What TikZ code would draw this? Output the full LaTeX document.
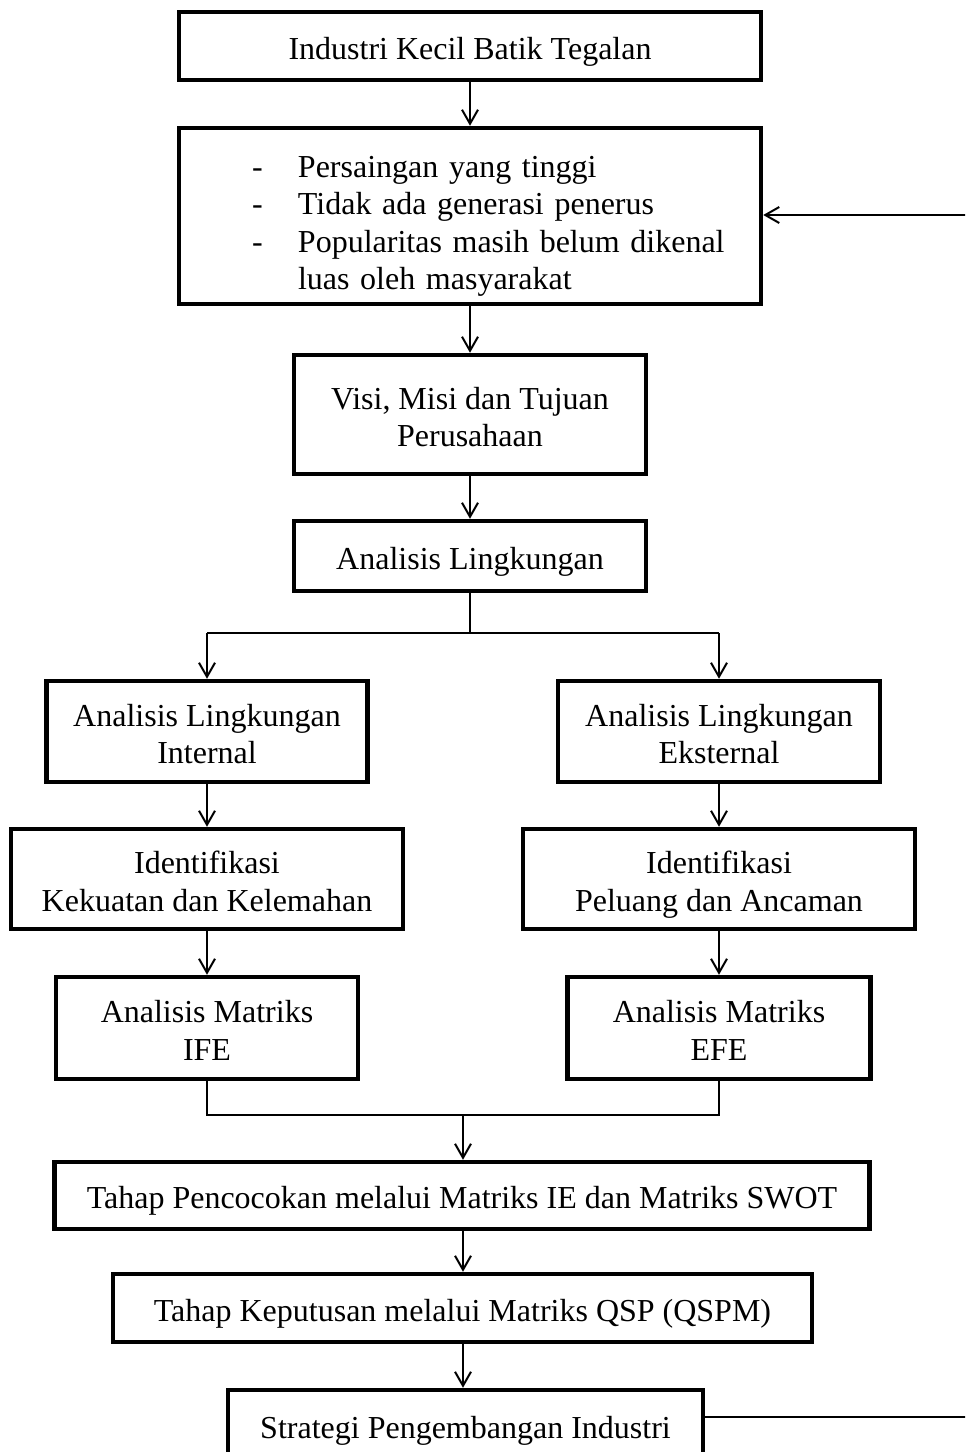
\documentclass[tikz,border=0pt]{standalone}
\usepackage{fontspec}
\setmainfont{Liberation Serif}
\usetikzlibrary{arrows.meta}
\newcommand\myfirststrut{\rule{0pt}{17pt}}
\tikzset{
  box/.style={draw, line width=2.25pt, inner sep=0pt, align=center,
    font=\fontsize{16pt}{18.75pt}\selectfont,
    execute at end node={\rule[-3.6pt]{0pt}{0pt}}},
  conn/.style={line width=1pt},
  arr/.style={line width=1pt, -{Straight Barb[length=7pt,width=8pt]}}
}
\begin{document}
\begin{tikzpicture}[x=0.5pt,y=-0.5pt]
\path[use as bounding box] (0,0) rectangle (965,1452);
\clip (0,0) rectangle (965,1452);

\node[box, minimum width=291pt, minimum height=34pt] (b1) at (470,46) {\myfirststrut Industri Kecil Batik Tegalan};
\node[box, text width=291pt, minimum height=88pt, align=left] (b2) at (470,216)
 {\rule{0pt}{21pt}\hspace*{36.5pt}\makebox[23pt][l]{-}Persaingan yang tinggi\\
  \hspace*{36.5pt}\makebox[23pt][l]{-}Tidak ada generasi penerus\\
  \hspace*{36.5pt}\makebox[23pt][l]{-}\makebox[219.5pt][s]{Popularitas masih belum dikenal}\\
  \hspace*{59.5pt}luas oleh masyarakat};
\node[box, minimum width=176pt, minimum height=59.5pt] (b3) at (470,414.5) {\myfirststrut Visi, Misi dan Tujuan\\Perusahaan};
\node[box, minimum width=176pt, minimum height=35pt] (b4) at (470,556) {\myfirststrut Analisis Lingkungan};

\node[box, minimum width=160.5pt, minimum height=50.5pt] (l1) at (207,731.5) {\myfirststrut Analisis Lingkungan\\Internal};
\node[box, minimum width=161pt, minimum height=50.5pt] (r1) at (719,731.5) {\myfirststrut Analisis Lingkungan\\Eksternal};
\node[box, minimum width=196pt, minimum height=50pt] (l2) at (207,879) {\myfirststrut Identifikasi\\Kekuatan dan Kelemahan};
\node[box, minimum width=196pt, minimum height=50pt] (r2) at (719,879) {\myfirststrut Identifikasi\\Peluang dan Ancaman};
\node[box, minimum width=151pt, minimum height=51pt] (l3) at (207,1028) {\myfirststrut Analisis Matriks\\IFE};
\node[box, minimum width=151.5pt, minimum height=51pt] (r3) at (719,1028) {\myfirststrut Analisis Matriks\\EFE};

\node[box, minimum width=407.5pt, minimum height=33.5pt] (b5) at (462,1195.5) {\myfirststrut Tahap Pencocokan melalui Matriks IE dan Matriks SWOT};
\node[box, minimum width=349.5pt, minimum height=34pt] (b6) at (462.5,1308) {\myfirststrut Tahap Keputusan melalui Matriks QSP (QSPM)};
\node[box, minimum width=237.5pt, minimum height=35pt] (b7) at (465.5,1425) {\myfirststrut Strategi Pengembangan Industri};

\coordinate (s) at (470,633);
\coordinate (m) at (463,1115);
\coordinate (f1) at (970,1417);
\coordinate (f2) at (970,215);

\draw[arr] (b1.south) -- (b1.south |- b2.north);
\draw[arr] (b2.south) -- (b2.south |- b3.north);
\draw[arr] (b3.south) -- (b3.south |- b4.north);
\draw[conn] (b4.south) -- (s);
\draw[conn] (l1.north |- s) -- (r1.north |- s);
\draw[arr] (l1.north |- s) -- (l1.north);
\draw[arr] (r1.north |- s) -- (r1.north);
\draw[arr] (l1.south) -- (l2.north);
\draw[arr] (r1.south) -- (r2.north);
\draw[arr] (l2.south) -- (l3.north);
\draw[arr] (r2.south) -- (r3.north);
\draw[conn] (l3.south) -- (l3.south |- m) -- (r3.south |- m) -- (r3.south);
\draw[arr] (m) -- (m |- b5.north);
\draw[arr] (m |- b5.south) -- (m |- b6.north);
\draw[arr] (m |- b6.south) -- (m |- b7.north);
\draw[conn] (b7.east |- f1) -- (f1);
\draw[arr] (f2) -- (f2 -| b2.east);
\end{tikzpicture}
\end{document}
